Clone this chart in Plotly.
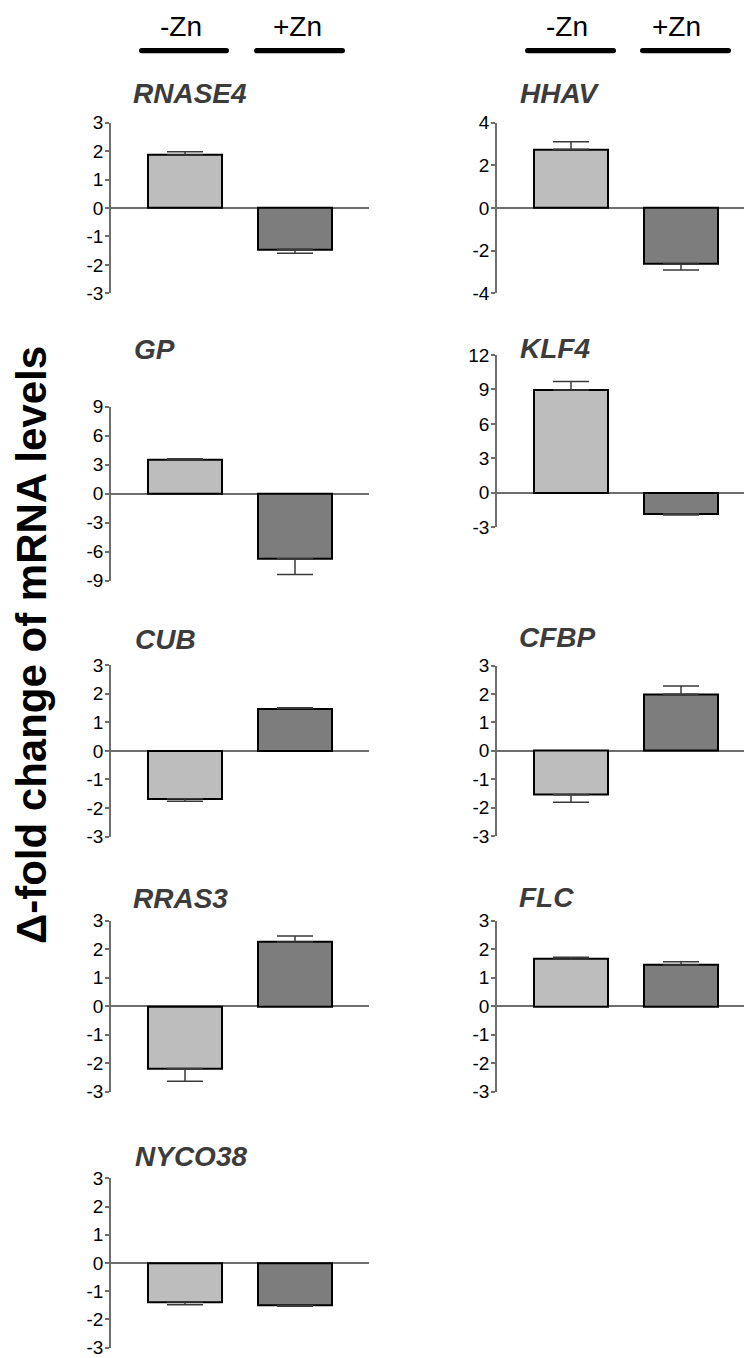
import plotly.graph_objects as go

# ---------------- data ----------------
genes = ["RNASE4", "HHAV", "GP", "KLF4", "CUB", "CFBP", "RRAS3", "FLC", "NYCO38"]
conditions = ["-Zn", "+Zn"]
minus_zn = [1.86, 2.75, 3.52, 8.95, -1.67, -1.55, -2.19, 1.66, -1.39]
minus_zn_err = [0.12, 0.36, 0.10, 0.75, 0.09, 0.26, 0.44, 0.06, 0.09]
plus_zn = [-1.45, -2.63, -6.72, -1.83, 1.48, 1.99, 2.25, 1.45, -1.51]
plus_zn_err = [0.14, 0.28, 1.63, 0.11, 0.03, 0.29, 0.21, 0.11, 0.03]
y_ranges = [(-3, 3), (-4, 4), (-9, 9), (-3, 12), (-3, 3), (-3, 3), (-3, 3), (-3, 3), (-3, 3)]
y_steps = [1, 2, 3, 3, 1, 1, 1, 1, 1]
y_label = "Δ-fold change of mRNA levels"

# ---------------- layout helpers ----------------
W, H = 744, 1358
def px(x):
    return x / W
def py(y):
    return 1 - y / H

col_axis_x = [111, 497]
col_span = 258           # axis to end of zero line (px)
bar_off = 74             # axis to first bar centre (px)
bar_gap = 110            # px between bar centres
bar_w_px = 74
# panel axis top/bottom in px
panel_top = [122.7, 122.7, 406.7, 355, 665, 665.5, 920.7, 920.7, 1178.3]
panel_bot = [293.3, 293.3, 580.7, 527.3, 836.7, 836, 1091.7, 1091.7, 1347.5]
title_pos = [(131, 94), (518, 94), (132, 350), (518, 349), (133, 639),
             (517, 637), (131, 898), (517, 897), (133, 1156)]

light = "#bdbdbd"
dark = "#7d7d7d"
FONT = "Liberation Sans, Arial, sans-serif"

fig = go.Figure()
annotations = []
shapes = []

for i, g in enumerate(genes):
    col = i % 2
    ax0 = col_axis_x[col]
    ax1 = min(ax0 + col_span, W)
    xr0 = 1 - bar_off / bar_gap
    xr1 = 1 + (ax1 - ax0 - bar_off) / bar_gap
    k = "" if i == 0 else str(i + 1)
    vals = [minus_zn[i], plus_zn[i]]
    errs = [minus_zn_err[i], plus_zn_err[i]]
    up = [e if v >= 0 else 0 for v, e in zip(vals, errs)]
    dn = [e if v < 0 else 0 for v, e in zip(vals, errs)]
    fig.add_trace(go.Bar(
        x=[1, 2], y=vals, width=bar_w_px / bar_gap,
        marker=dict(color=[light, dark], line=dict(color="black", width=2)),
        error_y=dict(type="data", symmetric=False, array=up, arrayminus=dn,
                     color="#3a3a3a", thickness=1.5, width=18),
        xaxis="x" + k, yaxis="y" + k, showlegend=False,
        hovertext=conditions, name=g,
    ))
    lo, hi = y_ranges[i]
    tv = list(range(lo, hi + 1, y_steps[i]))
    tt = [str(v) for v in tv]
    fig.update_layout(**{
        "xaxis" + k: dict(domain=[px(ax0), px(ax1)], range=[xr0, xr1],
                          visible=False, anchor="y" + k, fixedrange=True,
                          automargin=False),
        "yaxis" + k: dict(domain=[py(panel_bot[i]), py(panel_top[i])],
                          range=[lo, hi], anchor="x" + k,
                          tickvals=tv, ticktext=tt, automargin=False,
                          ticklabeloverflow="allow", ticklabelstandoff=-2,
                          showgrid=False, zeroline=True, zerolinecolor="#6e6e6e",
                          zerolinewidth=1.5,
                          showline=True, linecolor="#6e6e6e", linewidth=1.5,
                          ticks="outside", ticklen=4, tickwidth=1.5, tickcolor="#6e6e6e",
                          tickfont=dict(family=FONT, size=19, color="black"),
                          fixedrange=True),
    })
    tx, ty = title_pos[i]
    annotations.append(dict(
        x=px(tx), y=py(ty), xref="paper", yref="paper", xanchor="left", yanchor="middle",
        text="<b><i>" + g + "</i></b>", showarrow=False,
        font=dict(family=FONT, size=28, color="#3c3c3c")))

# header labels and bars
header_text_x = [[181, 297], [567, 676]]
header_bar = [[(139, 229), (254, 345)], [(525, 616), (640, 731)]]
for c in range(2):
    for j, lab in enumerate(conditions):
        annotations.append(dict(
            x=px(header_text_x[c][j]), y=py(26), xref="paper", yref="paper",
            xanchor="center", yanchor="middle", text=lab, showarrow=False,
            font=dict(family=FONT, size=28, color="black")))
        x0, x1 = header_bar[c][j]
        yc, r = 50.7, 2.6
        path = (f"M {px(x0 + r)},{py(yc - r)} L {px(x1 - r)},{py(yc - r)} "
                f"C {px(x1 + r * 0.35)},{py(yc - r)} {px(x1 + r * 0.35)},{py(yc + r)} {px(x1 - r)},{py(yc + r)} "
                f"L {px(x0 + r)},{py(yc + r)} "
                f"C {px(x0 - r * 0.35)},{py(yc + r)} {px(x0 - r * 0.35)},{py(yc - r)} {px(x0 + r)},{py(yc - r)} Z")
        shapes.append(dict(type="path", path=path, xref="paper", yref="paper",
                           fillcolor="black", line=dict(width=0)))

annotations.append(dict(
    x=px(31), y=py(645), xref="paper", yref="paper", xanchor="center", yanchor="middle",
    text="<b>" + y_label + "</b>", textangle=-90, showarrow=False,
    font=dict(family=FONT, size=42, color="black")))

fig.update_layout(
    template="none",
    width=W, height=H, margin=dict(l=0, r=0, t=0, b=0, pad=0, autoexpand=False),
    paper_bgcolor="white", plot_bgcolor="rgba(0,0,0,0)",
    annotations=annotations, shapes=shapes, bargap=0,
    font=dict(family=FONT),
)

fig.write_html("out.html", config={"displayModeBar": False},
               post_script="document.body.style.margin='0px';document.body.style.overflow='hidden';")
